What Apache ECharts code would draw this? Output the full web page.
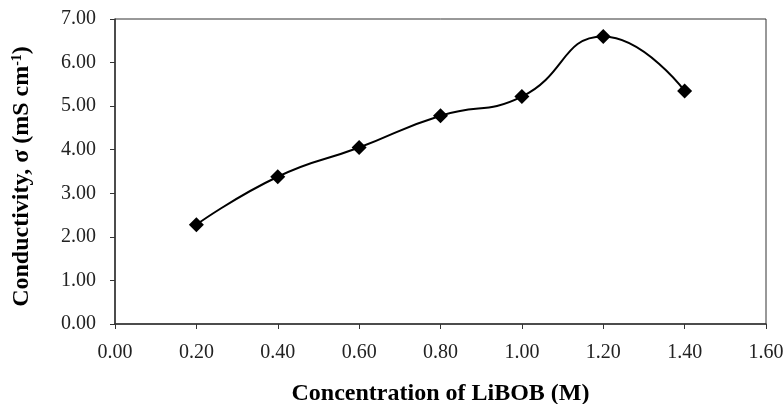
<!DOCTYPE html>
<html>
<head>
<meta charset="utf-8">
<script src="https://cdn.jsdelivr.net/npm/echarts@6/dist/echarts.min.js"></script>
<style>
  html, body { margin: 0; padding: 0; background: #fff; }
  #chart { width: 784px; height: 404px; }
</style>
</head>
<body>
<div id="chart"></div>
<script>
// LiBOB concentration (M) vs conductivity (mS cm-1)
const concentration = [0.2, 0.4, 0.6, 0.8, 1.0, 1.2, 1.4];
const conductivity = [2.28, 3.38, 4.05, 4.78, 5.22, 6.60, 5.35];

const chart = echarts.init(document.getElementById("chart"));
const font = "Liberation Serif";

chart.setOption({
  animation: false,
  backgroundColor: "#fff",
  grid: {
    left: 115, right: 18, top: 19, bottom: 80,
    outerBoundsMode: "none",
    show: true, borderColor: "#333", borderWidth: 1,
  },
  xAxis: {
    type: "value",
    min: 0, max: 1.6, interval: 0.2,
    name: "Concentration of LiBOB (M)",
    nameLocation: "middle",
    nameGap: 58,
    nameTextStyle: { fontFamily: font, fontWeight: "bold", fontSize: 24, color: "#000" },
    axisLine: { show: true, lineStyle: { color: "#333", width: 1.5 } },
    axisTick: { show: true, inside: false, length: 5, lineStyle: { color: "#333" } },
    axisLabel: {
      fontFamily: font, fontSize: 20, color: "#222", margin: 19,
      formatter: (v) => v.toFixed(2),
    },
    splitLine: { show: false },
  },
  yAxis: {
    type: "value",
    min: 0, max: 7, interval: 1,
    name: "Conductivity, σ (mS cm{sup|-1})",
    nameLocation: "middle",
    nameRotate: 90,
    nameGap: 81,
    nameTextStyle: {
      fontFamily: font, fontWeight: "bold", fontSize: 24, color: "#000",
      padding: [0, 10, 0, 0],
      rich: {
        sup: { fontFamily: font, fontWeight: "bold", fontSize: 14, color: "#000", verticalAlign: "top", padding: [0, 0, 10, 0] },
      },
    },
    axisLine: { show: true, lineStyle: { color: "#333", width: 1.5 } },
    axisTick: { show: true, inside: false, length: 5, lineStyle: { color: "#333" } },
    axisLabel: {
      fontFamily: font, fontSize: 20, color: "#222", margin: 19,
      formatter: (v) => v.toFixed(2),
    },
    splitLine: { show: false },
  },
  series: [
    {
      type: "line",
      data: concentration.map((c, i) => [c, conductivity[i]]),
      smooth: 0.5,
      symbol: "diamond",
      symbolSize: 15,
      itemStyle: { color: "#000" },
      lineStyle: { color: "#000", width: 2 },
    },
  ],
});
</script>
</body>
</html>
